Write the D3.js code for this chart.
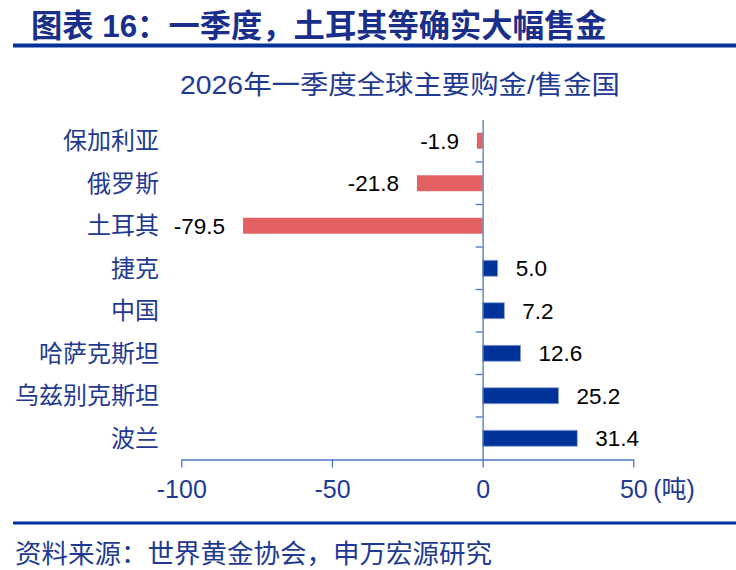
<!DOCTYPE html>
<html>
<head>
<meta charset="utf-8">
<script src="https://cdn.jsdelivr.net/npm/d3@7"></script>
<style>
  html, body { margin: 0; padding: 0; background: #ffffff; }
  svg { display: block; }
</style>
</head>
<body>
<svg id="chart" width="736" height="570"></svg>
<script>
// ---- data ----
const categories = ["保加利亚", "俄罗斯", "土耳其", "捷克", "中国", "哈萨克斯坦", "乌兹别克斯坦", "波兰"];
const values = [-1.9, -21.8, -79.5, 5.0, 7.2, 12.6, 25.2, 31.4];
const xTicks = [-100, -50, 0, 50];
const unitLabel = "(吨)";
const titleText = "图表 16：一季度，土耳其等确实大幅售金";
const subtitleText = "2026年一季度全球主要购金/售金国";
const sourceText = "资料来源：世界黄金协会，申万宏源研究";

// ---- styles ----
const LATIN = "'Liberation Sans', Arial, 'Noto Sans CJK SC', sans-serif";
const NARROW = "'Liberation Sans Narrow', 'Arial Narrow', 'Liberation Sans', 'Noto Sans CJK SC', sans-serif";
const NAVY = "#003399";
const TEXT_BLUE = "#1f3a93";
const AXIS_BLUE = "#4a76c8";
const RED = "#e46163";
const BLUE_BAR = "#003399";

const svg = d3.select("#chart");

// title + rules
svg.append("text")
  .attr("x", 31).attr("y", 37)
  .attr("font-family", LATIN).attr("font-weight", "bold")
  .attr("font-size", 31.3).attr("fill", "#1a2f8c")
  .text(titleText);

svg.append("rect").attr("x", 13).attr("y", 43.5).attr("width", 723).attr("height", 4).attr("fill", NAVY);
svg.append("rect").attr("x", 13).attr("y", 521.5).attr("width", 723).attr("height", 3).attr("fill", NAVY);

svg.append("text")
  .attr("x", 180).attr("y", 94)
  .attr("textLength", 440).attr("lengthAdjust", "spacingAndGlyphs")
  .attr("font-family", LATIN).attr("font-size", 26.5).attr("fill", TEXT_BLUE)
  .text(subtitleText);

svg.append("text")
  .attr("x", 15).attr("y", 563)
  .attr("font-family", LATIN).attr("font-size", 26.5).attr("fill", TEXT_BLUE)
  .text(sourceText);

// ---- scales ----
const x = d3.scaleLinear().domain([-100, 50]).range([181.3, 633.3]);
const y = d3.scaleBand().domain(categories).range([119.5, 459.5])
  .paddingInner(0.624).paddingOuter(0.312);
const step = y.step();

// ---- bars ----
const data = categories.map((c, i) => ({ c, v: values[i] }));

svg.append("g").selectAll("rect").data(data).join("rect")
  .attr("x", d => x(Math.min(0, d.v)))
  .attr("y", d => y(d.c))
  .attr("width", d => Math.abs(x(d.v) - x(0)))
  .attr("height", y.bandwidth())
  .attr("fill", d => d.v < 0 ? RED : BLUE_BAR)
  .attr("stroke", d => d.v < 0 ? "none" : "#8da2d4")
  .attr("stroke-width", 0.8);

// value labels
svg.append("g").selectAll("text").data(data).join("text")
  .attr("x", d => d.v < 0 ? x(d.v) - 18 : x(d.v) + 18)
  .attr("y", d => y(d.c) + y.bandwidth() / 2 + 7.8)
  .attr("text-anchor", d => d.v < 0 ? "end" : "start")
  .attr("font-family", LATIN).attr("font-size", 22.5).attr("fill", "#000")
  .text(d => d.v.toFixed(1));

// ---- bottom axis ----
const xAxis = d3.axisBottom(x).tickValues(xTicks).tickSize(8).tickSizeOuter(0).tickFormat(d => String(d));
const gx = svg.append("g").attr("transform", "translate(0,459.5)").call(xAxis);
gx.select(".domain").attr("stroke", AXIS_BLUE).attr("stroke-width", 1.3);
gx.selectAll(".tick line").attr("stroke", AXIS_BLUE).attr("stroke-width", 1.3);
gx.selectAll(".tick text")
  .attr("font-family", NARROW).attr("font-size", 25).attr("fill", TEXT_BLUE)
  .attr("dy", null).attr("y", 38);
gx.append("text")
  .attr("x", x(50) + 20).attr("y", 38)
  .attr("text-anchor", "start")
  .attr("font-family", NARROW).attr("font-size", 25).attr("fill", TEXT_BLUE)
  .text(unitLabel);

// ---- zero (category) axis ----
const yAxis = d3.axisLeft(y).tickSize(0).tickFormat("");
const gy = svg.append("g").attr("transform", `translate(${x(0)},0)`).call(yAxis);
gy.select(".domain").attr("stroke", AXIS_BLUE).attr("stroke-width", 1.3);
// tick marks at band boundaries
const bounds = categories.slice(1).map(c => y(c) - (step * y.paddingInner()) / 2);
gy.selectAll("line.bound").data(bounds).join("line")
  .attr("class", "bound")
  .attr("x1", -7).attr("x2", 0)
  .attr("y1", d => d).attr("y2", d => d)
  .attr("stroke", AXIS_BLUE).attr("stroke-width", 1.3);

// category labels
svg.append("g").selectAll("text").data(categories).join("text")
  .attr("x", 159)
  .attr("y", d => y(d) + y.bandwidth() / 2)
  .attr("dominant-baseline", "central")
  .attr("text-anchor", "end")
  .attr("font-family", LATIN).attr("font-size", 24).attr("fill", TEXT_BLUE)
  .text(d => d);
</script>
</body>
</html>
